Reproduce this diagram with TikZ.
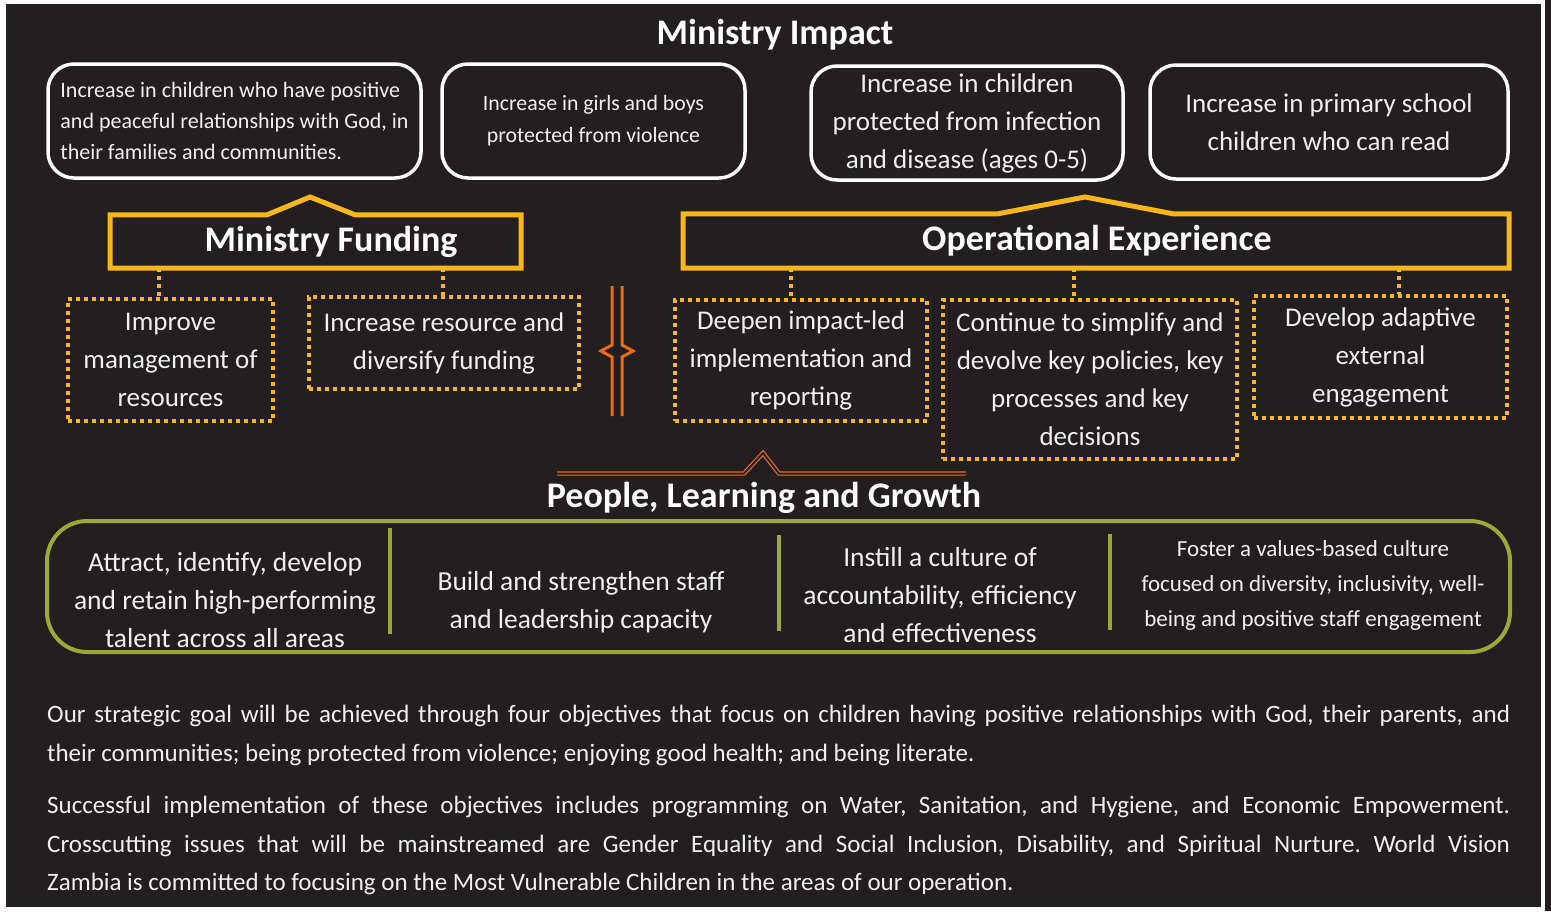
\documentclass[tikz,border=0pt]{standalone}
\usepackage{fontspec}
\setmainfont{Carlito}
\usepackage{xcolor}
\usetikzlibrary{calc}
\definecolor{wvdark}{HTML}{231F20}
\definecolor{wvyellow}{HTML}{F8B617}
\definecolor{wvorange}{HTML}{EE6A12}
\definecolor{wvgreen}{HTML}{9DA937}
\definecolor{wvtext}{HTML}{F0F0F0}
\tikzset{
  impbox/.style={draw=white, line width=3.5pt, rounded corners=26pt, inner sep=0pt, text=wvtext, align=center},
  headtxt/.style={text=white, inner sep=0pt, font=\bfseries\fontsize{36}{40}\selectfont},
  objbox/.style={draw=wvyellow, line width=3.5pt, dash pattern=on 4pt off 4pt, inner sep=0pt, align=center, text=wvtext, font=\fontsize{27}{38}\selectfont},
  dotlink/.style={draw=wvyellow, line width=3.5pt, dash pattern=on 4pt off 4pt},
  headline/.style={draw=wvyellow, line width=5pt, line join=miter},
  plgtxt/.style={text=wvtext, align=center, inner sep=0pt, font=\fontsize{27.5}{38}\selectfont},
  parabox/.style={text=wvtext, inner sep=0pt, anchor=north west, text width=1463pt, align=justify, font=\frenchspacing\fontsize{25}{38.5}\selectfont}
}
\begin{document}
\begin{tikzpicture}[x=1pt,y=-1pt]
        \newcommand{\wvwidth}{1551}
        \newcommand{\wvheight}{911}
        \newcommand{\wvsepcol}{wvgreen}
        \useasboundingbox (0,0) rectangle (\wvwidth,\wvheight);
        % frame
        \fill[white] (0,0) rectangle (\wvwidth,\wvheight);
        \fill[wvdark] (6,4) rectangle (1541,907);
        \fill[wvdark] (1545,0) rectangle (\wvwidth,\wvheight);
        % ministry impact
        \node[headtxt] (imptitle) at (775,35) {Ministry Impact};
        \node[impbox, minimum width=373pt, minimum height=114pt, align=left, font=\fontsize{22}{31}\selectfont] (impa) at (234.5,121) {Increase in children who have positive\\and peaceful relationships with God, in\\their families and communities.};
        \node[impbox, minimum width=303pt, minimum height=114pt, font=\fontsize{21.8}{32}\selectfont] (impb) at (593.5,121) {Increase in girls and boys\\protected from violence};
        \node[impbox, minimum width=312pt, minimum height=114pt, font=\fontsize{27}{38}\selectfont] (impc) at (967,123) {Increase in children\\protected from infection\\and disease (ages 0-5)};
        \node[impbox, minimum width=358pt, minimum height=114pt, font=\fontsize{27}{38}\selectfont] (impd) at (1329,122) {Increase in primary school\\children who can read};
        % ministry funding
        \node[headtxt, minimum height=53pt] (fund) at (331,241.5) {Ministry Funding};
        \draw[headline] (110,0 |- fund.south) -- (110,0 |- fund.north) -- (267,0 |- fund.north) -- (310,197) -- (355,0 |- fund.north) -- (521,0 |- fund.north) -- (521,0 |- fund.south) -- cycle;
        \node[objbox, minimum width=205pt, minimum height=122pt] (imprv) at (170.5,360) {Improve\\management of\\resources};
        \node[objbox, minimum width=270pt, minimum height=92pt] (divers) at (444,343) {Increase resource and\\diversify funding};
        \draw[dotlink] (159,0 |- fund.south) -- (159,0 |- imprv.north);
        \draw[dotlink] (443,0 |- fund.south) -- (443,0 |- divers.north);
        % operational experience
        \node[headtxt, minimum height=54pt] (ops) at (1097,241) {Operational Experience};
        \draw[headline] (683,0 |- ops.south) -- (683,0 |- ops.north) -- (998,0 |- ops.north) -- (1085,197) -- (1173,0 |- ops.north) -- (1509,0 |- ops.north) -- (1509,0 |- ops.south) -- cycle;
        \node[objbox, minimum width=252pt, minimum height=121pt] (deepen) at (801,360.5) {Deepen impact-led\\implementation and\\reporting};
        \node[objbox, minimum width=294pt, minimum height=159pt] (simplify) at (1090,379.5) {Continue to simplify and\\devolve key policies, key\\processes and key\\decisions};
        \node[objbox, minimum width=253pt, minimum height=122pt] (adapt) at (1380.5,357) {Develop adaptive\\external\\engagement};
        \draw[dotlink] (791,0 |- ops.south) -- (791,0 |- deepen.north);
        \draw[dotlink] (1074,0 |- ops.south) -- (1074,0 |- simplify.north);
        \draw[dotlink] (1399,0 |- ops.south) -- (1399,0 |- adapt.north);
        % orange marks
        \draw[wvorange, line width=3pt] (612,286) -- (612,345) -- (601,351) -- (612,357) -- (612,416);
        \draw[wvorange, line width=3pt] (622,286) -- (622,345) -- (633,351) -- (622,357) -- (622,416);
        \draw[wvorange, double=wvdark, double distance=2pt, line width=1.2pt] (557,473.5) -- (744,473.5) -- (763,453) -- (779,473.5) -- (966,473.5);
        % people, learning and growth
        \node[headtxt] (plgtitle) at (764,498) {People, Learning and Growth};
        \node[draw=wvgreen, line width=4pt, rounded corners=40pt, minimum width=1463pt, minimum height=131pt] (plg) at (778.5,586.5) {};
        \draw[\wvsepcol, line width=4pt] (390,528) -- (390,634);
        \draw[\wvsepcol, line width=4pt] (779,535) -- (779,631);
        \draw[\wvsepcol, line width=4pt] (1110,534) -- (1110,630);
        \node[plgtxt] (attract) at (225,600) {Attract, identify, develop\\and retain high-performing\\talent across all areas};
        \node[plgtxt] (build) at (581,602) {Build and strengthen staff\\and leadership capacity};
        \node[plgtxt] (instill) at (940,595) {Instill a culture of\\accountability, efficiency\\and effectiveness};
        \node[plgtxt, font=\fontsize{23}{35}\selectfont] (foster) at (1313,585) {Foster a values-based culture\\focused on diversity, inclusivity, well-\\being and positive staff engagement};
        % text below
        \node[parabox] (parone) at (47,705) {Our strategic goal will be achieved through four objectives that focus on children having positive relationships with God, their parents, and\linebreak their communities; being protected from violence; enjoying good health; and being literate.};
        \node[parabox] (partwo) at (47,796) {Successful implementation of these objectives includes programming on Water, Sanitation, and Hygiene, and Economic Empowerment.\linebreak Crosscutting issues that will be mainstreamed are Gender Equality and Social Inclusion, Disability, and Spiritual Nurture. World Vision\linebreak Zambia is committed to focusing on the Most Vulnerable Children in the areas of our operation.};
\end{tikzpicture}
\end{document}
